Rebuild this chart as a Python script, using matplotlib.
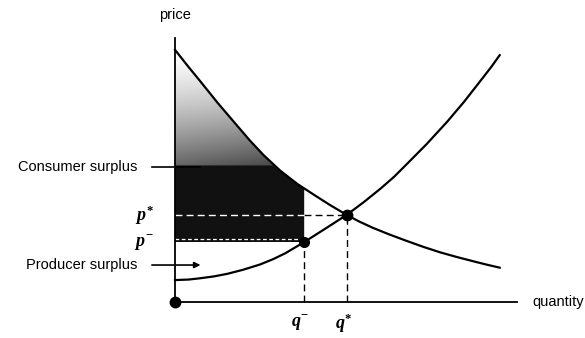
import numpy as np
import matplotlib
matplotlib.use("Agg")
import matplotlib.pyplot as plt
from matplotlib.patches import Polygon

# demand and supply curves (quantity, price)
demand_q = [0.0, 0.4, 0.75, 1.25, 1.8, 2.2, 2.6, 3.1, 3.6, 4.1, 4.55,
            5.05, 5.4, 5.8, 6.3, 6.8, 7.3, 7.8, 8.3, 8.75, 9.15, 9.55]
demand_p = [9.55, 8.9, 8.35, 7.55, 6.72, 6.12, 5.57, 4.97, 4.47, 4.05, 3.68,
            3.3, 3.06, 2.82, 2.56, 2.32, 2.09, 1.88, 1.7, 1.55, 1.42, 1.3]

supply_q = [0.0, 0.4, 0.75, 1.15, 1.55, 2.0, 2.5, 2.9, 3.25, 3.8, 4.4,
            5.05, 5.55, 6.05, 6.45, 6.8, 7.4, 8.0, 8.5, 8.95, 9.3, 9.55]
supply_p = [0.83, 0.85, 0.9, 0.97, 1.07, 1.22, 1.42, 1.63, 1.85, 2.27, 2.76,
            3.3, 3.78, 4.3, 4.75, 5.2, 5.98, 6.82, 7.58, 8.32, 8.9, 9.35]

# equilibrium and controlled price/quantity
q_star, p_star = 5.05, 3.3
q_minus, p_minus = 3.8, 2.27

plt.rcParams['mathtext.fontset'] = 'custom'
plt.rcParams['mathtext.it'] = 'Liberation Serif:italic:bold'
plt.rcParams['mathtext.rm'] = 'Liberation Serif:bold'
label_font = ['Liberation Sans', 'DejaVu Sans']

fig = plt.figure(figsize=(5.85, 3.38), dpi=100)
ax = fig.add_axes([0, 0, 1, 1])
ax.set_xlim(-5.147, 12.059)
ax.set_ylim(-1.364, 11.439)
ax.axis('off')

# shaded surplus region under demand, above p-, left of q-
d_at_qm = np.interp(q_minus, demand_q, demand_p)
verts = [(0, p_minus)]
verts += [(q, p) for q, p in zip(demand_q, demand_p) if q < q_minus]
verts += [(q_minus, d_at_qm), (q_minus, p_minus)]
region = Polygon(verts, closed=True, facecolor='none', edgecolor='none')
ax.add_patch(region)

top = max(demand_p)
rows = np.linspace(top, p_minus, 300)
cols = np.linspace(0, q_minus, 100)
P, Q = np.meshgrid(rows, cols, indexing='ij')
t = np.clip((top - P) / (top - 5.15), 0, 1)
shade = 1 - 0.6 * t ** 1.4 - 0.15 * (Q / q_minus) * t
shade = np.where(P < 5.15, 0.07, shade)
img = ax.imshow(shade, cmap='gray', vmin=0, vmax=1, aspect='auto',
                extent=[0, q_minus, p_minus, top], zorder=1,
                interpolation='bilinear')
img.set_clip_path(region)

# axes
ax.plot([0, 0], [0, 10.0], color='black', lw=1.3, zorder=3)
ax.plot([0, 10.05], [0, 0], color='black', lw=1.3, zorder=3)
ax.plot([0], [0], 'o', color='black', ms=7.5, zorder=4)

# curves
ax.plot(demand_q, demand_p, color='black', lw=1.6, zorder=3,
        solid_joinstyle='round')
ax.plot(supply_q, supply_p, color='black', lw=1.6, zorder=3,
        solid_joinstyle='round')

# guide lines
dash = (0, (5, 3))
ax.plot([q_minus, q_star], [p_star, p_star], color='black', lw=1.0,
        linestyle=dash, zorder=2)
ax.plot([0, q_minus], [p_star, p_star], color='white', lw=1.0,
        linestyle=dash, zorder=2)
ax.plot([0, q_minus], [p_minus + 0.12, p_minus + 0.12], color='white',
        lw=0.9, linestyle=(0, (3, 2)), zorder=2)
ax.plot([q_minus, q_minus], [0, p_minus], color='black', lw=1.0,
        linestyle=dash, zorder=2)
ax.plot([q_star, q_star], [0, p_star], color='black', lw=1.0,
        linestyle=dash, zorder=2)

ax.plot([q_star], [p_star], 'o', color='black', ms=7.5, zorder=4)
ax.plot([q_minus], [p_minus], 'o', color='black', ms=7, zorder=4)

# axis titles
ax.text(0, 10.87, 'price', ha='center', va='center', fontsize=10.5,
        family=label_font)
ax.text(10.5, 0, 'quantity', ha='left', va='center', fontsize=10.5,
        family=label_font)

# price / quantity labels
ax.text(-0.62, p_star, r'$p^{*}$', ha='right', va='center', fontsize=13)
ax.text(-0.62, p_minus - 0.05, r'$p^{-}$', ha='right', va='center', fontsize=13)
ax.text(q_minus - 0.12, -0.8, r'$q^{-}$', ha='center', va='center', fontsize=13)
ax.text(q_star - 0.1, -0.8, r'$q^{*}$', ha='center', va='center', fontsize=13)

# surplus callouts
cs_p, ps_p = 5.11, 1.40
ax.text(-1.12, cs_p, 'Consumer surplus', ha='right', va='center',
        fontsize=10.5, family=label_font)
ax.plot([-0.68, 0.75], [cs_p, cs_p], color='black', lw=1.2, zorder=2)
ax.text(-1.12, ps_p, 'Producer surplus', ha='right', va='center',
        fontsize=10.5, family=label_font)
ax.annotate('', xy=(0.75, ps_p), xytext=(-0.68, ps_p),
            arrowprops=dict(arrowstyle='-|>', color='black', lw=1.2,
                            mutation_scale=9, shrinkA=0, shrinkB=0))

fig.savefig('out.png', dpi=100)
